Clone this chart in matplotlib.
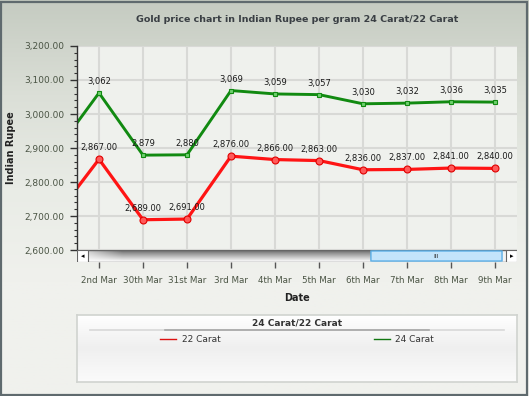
import numpy as np
import matplotlib
matplotlib.use('Agg')
import matplotlib.pyplot as plt
from matplotlib.colors import LinearSegmentedColormap
from matplotlib.patches import Rectangle, FancyBboxPatch
from matplotlib.lines import Line2D
from matplotlib.ticker import MultipleLocator, FuncFormatter

# data (first point is the one scrolled off to the left)
dates = ['', '2nd Mar', '30th Mar', '31st Mar', '3rd Mar', '4th Mar', '5th Mar',
         '6th Mar', '7th Mar', '8th Mar', '9th Mar']
carat24 = [2886, 3062, 2879, 2880, 3069, 3059, 3057, 3030, 3032, 3036, 3035]
carat22 = [2697, 2867, 2689, 2691, 2876, 2866, 2863, 2836, 2837, 2841, 2840]

W, H = 529, 396
fig = plt.figure(figsize=(W / 100, H / 100), dpi=100)
plt.rcParams['font.family'] = 'DejaVu Sans'

def fx(px):
    return px / W

def fy(py):
    return 1 - py / H

# background gradient (top greyish green -> light)
bg = fig.add_axes([0, 0, 1, 1], zorder=-10)
bg_cmap = LinearSegmentedColormap.from_list('bg', ['#c5cbc1', '#dbdfd7', '#e9ece6', '#f0f1ed'])
grad = np.clip(np.linspace(0, 1, 256) * 1.4, 0, 1).reshape(-1, 1)
bg.imshow(grad, aspect='auto', cmap=bg_cmap, extent=(0, 1, 0, 1))
bg.set_xlim(0, 1)
bg.set_ylim(0, 1)
bg.axis('off')
bg.add_patch(Rectangle((0.002, 0.003), 0.994, 0.992, transform=bg.transAxes,
                       fill=False, edgecolor='#5f6a6e', lw=1.6))

# main plot
x = np.arange(len(dates)) - 1
ax = fig.add_axes([fx(77), fy(250), fx(517) - fx(77), fy(46) - fy(250)])
ax.set_facecolor('#eff1ed')
ax.set_xlim(-0.5, 9.5)
ax.set_ylim(2600, 3200)
ax.set_xticks(x[1:])
ax.tick_params(axis='x', length=0, labelbottom=False)
ax.yaxis.set_major_locator(MultipleLocator(100))
ax.yaxis.set_minor_locator(MultipleLocator(20))
ax.yaxis.set_major_formatter(FuncFormatter(lambda v, p: f'{v:,.2f}'))
ax.tick_params(axis='y', which='major', length=5, width=1, color='#333333',
               labelsize=6.5, labelcolor='#4a5444', pad=4)
ax.tick_params(axis='y', which='minor', length=2.5, width=0.8, color='#333333')
ax.grid(True, color='#d8d9d6', lw=1.5)
ax.set_axisbelow(True)
for s in ['top', 'right', 'bottom']:
    ax.spines[s].set_visible(False)
ax.spines['left'].set_color('#333333')
ax.spines['left'].set_linewidth(1)
ax.set_ylabel('Indian Rupee', fontsize=7, fontweight='bold', color='#222222', labelpad=6)

l24, = ax.plot(x, carat24, color='#118a11', lw=2.1, marker='s', ms=3.5,
               mfc='#6fd06f', mec='#118a11', mew=0.8)
l22, = ax.plot(x, carat22, color='#ff1414', lw=2.3, marker='o', ms=5,
               mfc='#ff5a5a', mec='#e00000', mew=0.8)

for xi, v in zip(x[1:], carat24[1:]):
    ax.annotate(f'{v:,}', (xi, v), xytext=(0, 5), textcoords='offset points',
                ha='center', va='bottom', fontsize=6, color='#1a1a1a')
for xi, v in zip(x[1:], carat22[1:]):
    ax.annotate(f'{v:,.2f}', (xi, v), xytext=(0, 5), textcoords='offset points',
                ha='center', va='bottom', fontsize=6, color='#1a1a1a')

fig.text(fx(297), fy(20), 'Gold price chart in Indian Rupee per gram 24 Carat/22 Carat',
         ha='center', va='center', fontsize=6.8, fontweight='bold', color='#3a3f44')

# scrollbar carrying the date ticks
sb = fig.add_axes([fx(77), fy(262), fx(517) - fx(77), fy(250) - fy(262)])
vv = np.linspace(0, 1, 24).reshape(-1, 1)
hh = np.clip(np.linspace(0, 1, 300) / 0.12, 0, 1).reshape(1, -1)
shade = 0.34 + 0.66 * vv ** 0.9
bright = 1 - (1 - shade) * (0.35 + 0.65 * hh)
sb.imshow(np.dstack([bright] * 3), aspect='auto', interpolation='bilinear',
          extent=(0.026, 0.672, 0, 1), transform=sb.transAxes)
sb.add_patch(Rectangle((0.67, 0), 0.31, 1, transform=sb.transAxes, facecolor='#f4f4f4',
                       edgecolor='none'))
sb.add_patch(Rectangle((0, 0), 1, 1, transform=sb.transAxes, facecolor='none',
                       edgecolor='#666666', lw=1))
sb.add_patch(Rectangle((0, 0), 0.026, 1, transform=sb.transAxes, facecolor='white',
                       edgecolor='#666666', lw=0.8))
sb.add_patch(Rectangle((0.974, 0), 0.026, 1, transform=sb.transAxes, facecolor='white',
                       edgecolor='#666666', lw=0.8))
sb.add_patch(FancyBboxPatch((0.668, 0.08), 0.298, 0.84, transform=sb.transAxes,
                            boxstyle='round,pad=0,rounding_size=0.01',
                            facecolor='#c4e4fb', edgecolor='#5aaee6', lw=1))
sb.text(0.013, 0.5, '◂', transform=sb.transAxes, ha='center', va='center', fontsize=5)
sb.text(0.987, 0.5, '▸', transform=sb.transAxes, ha='center', va='center', fontsize=5)
sb.text(0.817, 0.5, 'III', transform=sb.transAxes, ha='center', va='center',
        fontsize=4.5, color='#333333')
sb.set_xlim(-0.5, 9.5)
sb.set_ylim(0, 1)
sb.set_yticks([])
sb.set_xticks(x[1:])
sb.set_xticklabels(dates[1:])
sb.tick_params(axis='x', length=4, width=1, color='#555555', pad=6,
               labelsize=6.3, labelcolor='#4a5444')
for s in sb.spines.values():
    s.set_visible(False)
sb.set_xlabel('Date', fontsize=7, fontweight='bold', color='#222222', labelpad=6)

# legend panel
lg = fig.add_axes([fx(77), fy(382), fx(517) - fx(77), fy(315) - fy(382)])
lg_cmap = LinearSegmentedColormap.from_list('lg', ['#ffffff', '#efefef', '#fbfbfb'])
lg.imshow(np.linspace(0, 1, 64).reshape(-1, 1), aspect='auto', cmap=lg_cmap,
          extent=(0, 1, 0, 1), transform=lg.transAxes)
lg.set_xlim(0, 1)
lg.set_ylim(0, 1)
lg.set_xticks([])
lg.set_yticks([])
for s in lg.spines.values():
    s.set_color('#d0d3cf')
    s.set_linewidth(1.2)
lg.text(0.5, 0.885, '24 Carat/22 Carat', transform=lg.transAxes, ha='center',
        va='center', fontsize=6.5, fontweight='bold', color='#333333')
lg.plot([0.03, 0.97], [0.78, 0.78], transform=lg.transAxes, color='#d8d8d8', lw=1.2)
lg.plot([0.2, 0.8], [0.78, 0.78], transform=lg.transAxes, color='#a8a8a8', lw=1.2)
handles = [Line2D([], [], color='#dd1111', lw=1), Line2D([], [], color='#117711', lw=1)]
lg.legend(handles, ['22 Carat', '24 Carat'], ncol=2, loc='center',
          bbox_to_anchor=(0.5, 0.63), frameon=False, fontsize=6.5,
          handlelength=1.8, handletextpad=0.6, columnspacing=17, labelcolor='#333333')

fig.savefig('out.png', dpi=100)
